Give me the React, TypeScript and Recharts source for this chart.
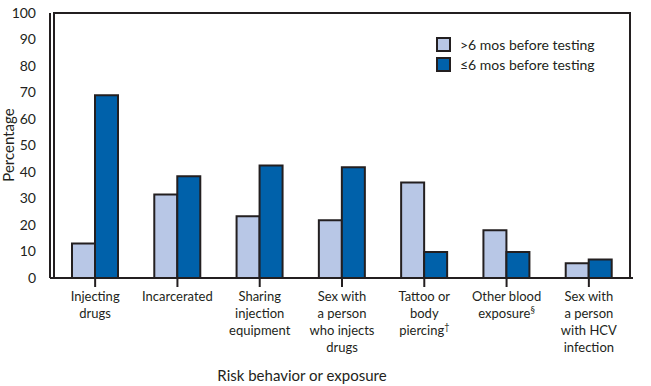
import { Bar, BarChart, ReferenceArea, XAxis, YAxis } from "recharts"

const categories = [
  "Injecting\ndrugs",
  "Incarcerated",
  "Sharing\ninjection\nequipment",
  "Sex with\na person\nwho injects\ndrugs",
  "Tattoo or\nbody\npiercing†",
  "Other blood\nexposure§",
  "Sex with\na person\nwith HCV\ninfection",
]
const moreThan6 = [13, 31.5, 23.3, 21.8, 36, 18, 5.6]
const upTo6 = [69, 38.4, 42.5, 41.8, 9.8, 9.8, 7]
const yTicks = [0, 10, 20, 30, 40, 50, 60, 70, 80, 90, 100]

const LIGHT = "#B8C7E6"
const DARK = "#0061AA"
const INK = "#231F20"
const FONT = "Lato, 'Open Sans', sans-serif"

const data = categories.map((name, i) => ({ name, a: moreThan6[i], b: upTo6[i] }))

function CatTick({ x, y, payload }: any) {
  const lines: string[] = String(payload.value).split("\n")
  return (
    <text x={x} y={y} textAnchor="middle" fill={INK} fontSize={13} fontFamily={FONT}>
      {lines.map((l, i) => {
        const last = l.slice(-1)
        const sup = last === "†" || last === "§"
        return (
          <tspan key={i} x={x} dy={i === 0 ? 12 : 17}>
            {sup ? l.slice(0, -1) : l}
            {sup && (
              <tspan fontSize={9} dy={-5}>
                {last}
              </tspan>
            )}
          </tspan>
        )
      })}
    </text>
  )
}

function LegendBox() {
  const items = [
    { fill: LIGHT, label: ">6 mos before testing" },
    { fill: DARK, label: "≤6 mos before testing" },
  ]
  return (
    <div style={{ position: "absolute", left: 436, top: 34, fontFamily: FONT, fontSize: 14, color: INK }}>
      {items.map((it) => (
        <div key={it.label} style={{ display: "flex", alignItems: "center", height: 20 }}>
          <span
            style={{
              width: 11,
              height: 11,
              background: it.fill,
              border: `2px solid ${INK}`,
              marginRight: 9,
              display: "inline-block",
            }}
          />
          {it.label}
        </div>
      ))}
    </div>
  )
}

export default function App() {
  return (
    <div style={{ position: "absolute", left: 0, top: 0, width: 651, height: 386, background: "#fff" }}>
      <BarChart
        width={651}
        height={386}
        data={data}
        margin={{ top: 13, right: 18, bottom: 78, left: 0 }}
        barGap={0}
        barSize={23}
      >
        <ReferenceArea y1={0} y2={100} fill="none" stroke={INK} strokeWidth={2} fillOpacity={0} />
        <XAxis
          dataKey="name"
          interval={0}
          height={30}
          tick={<CatTick />}
          tickSize={9}
          tickMargin={2}
          axisLine={{ stroke: INK, strokeWidth: 2 }}
          tickLine={{ stroke: INK, strokeWidth: 2 }}
          padding={{ left: 4, right: 3 }}
          label={{
            content: () => (
              <text x={302} y={381} textAnchor="middle" fill={INK} fontSize={15} fontFamily={FONT}>
                Risk behavior or exposure
              </text>
            ),
          }}
        />
        <YAxis
          domain={[0, 100]}
          ticks={yTicks}
          width={50}
          tickLine={false}
          tickMargin={8}
          axisLine={{ stroke: INK, strokeWidth: 2 }}
          tick={{ fill: INK, fontSize: 14, fontFamily: FONT }}
          label={{
            content: () => (
              <text
                x={14}
                y={145}
                transform="rotate(-90, 14, 145)"
                textAnchor="middle"
                fill={INK}
                fontSize={15}
                fontFamily={FONT}
              >
                Percentage
              </text>
            ),
          }}
        />
        <Bar dataKey="a" fill={LIGHT} stroke={INK} strokeWidth={2} isAnimationActive={false} />
        <Bar dataKey="b" fill={DARK} stroke={INK} strokeWidth={2} isAnimationActive={false} />
      </BarChart>
      <LegendBox />
    </div>
  )
}
